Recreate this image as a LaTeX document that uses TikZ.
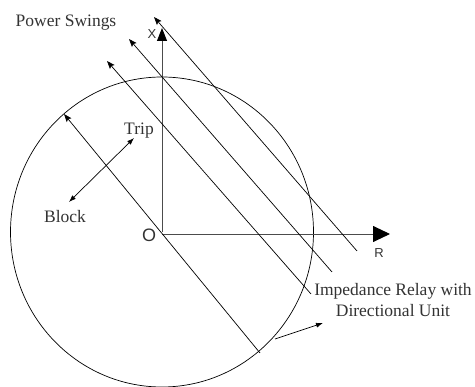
\documentclass[tikz,border=0pt]{standalone}
\usepackage{fontspec}
\setmainfont{Liberation Serif}
\newfontfamily\arialfont{Liberation Sans}
\usetikzlibrary{arrows.meta}
\definecolor{txt}{gray}{0.2}
\definecolor{axis}{gray}{0.3}
\tikzset{
  swing/.style={black, line width=0.7pt, -{Stealth[length=8pt,width=6pt,inset=1.5pt]}},
  axisline/.style={axis, line width=0.9pt},
  lbl/.style={text=txt, font=\fontsize{17.5}{21}\selectfont, inner sep=0pt},
  axlbl/.style={text=txt, font=\arialfont\fontsize{13}{15}\selectfont, inner sep=0pt},
  thin arrow/.style={black, line width=0.7pt},
}
\begin{document}
\begin{tikzpicture}[x=1pt,y=-1pt]
\useasboundingbox (0,0) rectangle (475,387);
% coordinates
\coordinate (O) at (162,232);
\coordinate (Xtip) at (162,28);
\coordinate (Rtip) at (390,234);
% circle (impedance relay characteristic)
\draw[black, line width=0.7pt] (O) ellipse [x radius=151.5, y radius=155];
% axes
\draw[axisline, -{Triangle[length=13pt,width=10pt,black]}] (O) -- (Xtip);
\draw[axisline, -{Triangle[length=17pt,width=16pt,black]}] (162,234) -- (Rtip);
% power swing loci
\coordinate (s1a) at (260,353); \coordinate (s1b) at (64,114);
\coordinate (s2a) at (311,294); \coordinate (s2b) at (107,61);
\coordinate (s3a) at (332,272); \coordinate (s3b) at (129,39);
\coordinate (s4a) at (357,251); \coordinate (s4b) at (154,17);
\draw[swing] (s1a) -- (s1b);
\draw[swing] (s2a) -- (s2b);
\draw[swing] (s3a) -- (s3b);
\draw[swing] (s4a) -- (s4b);
% trip / block arrow
\coordinate (blk) at (69,202);
\coordinate (trp) at (134,138);
\draw[thin arrow, {Latex[length=7pt,width=5pt]}-{Latex[length=7pt,width=5pt]}] (blk) -- (trp);
% relay pointer
\coordinate (rp1) at (275,339);
\coordinate (rp2) at (323,323);
\draw[thin arrow, -{Latex[length=7pt,width=5pt]}] (rp1) -- (rp2);
% labels
\node[lbl, anchor=base] (ps) at (66,27) {Power Swings};
\node[lbl, anchor=base] (trip) at (139,135) {Trip};
\node[lbl, anchor=base] (block) at (65,223) {Block};
\node[lbl, anchor=base, align=center] (relay) at (393,317) {Impedance Relay with\\Directional Unit};
\node[axlbl] (xl) at (152,34) {X};
\node[axlbl, font=\arialfont\fontsize{18}{20}\selectfont] (ol) at (149,235) {O};
\node[axlbl] (rl) at (379,253) {R};
\end{tikzpicture}
\end{document}
